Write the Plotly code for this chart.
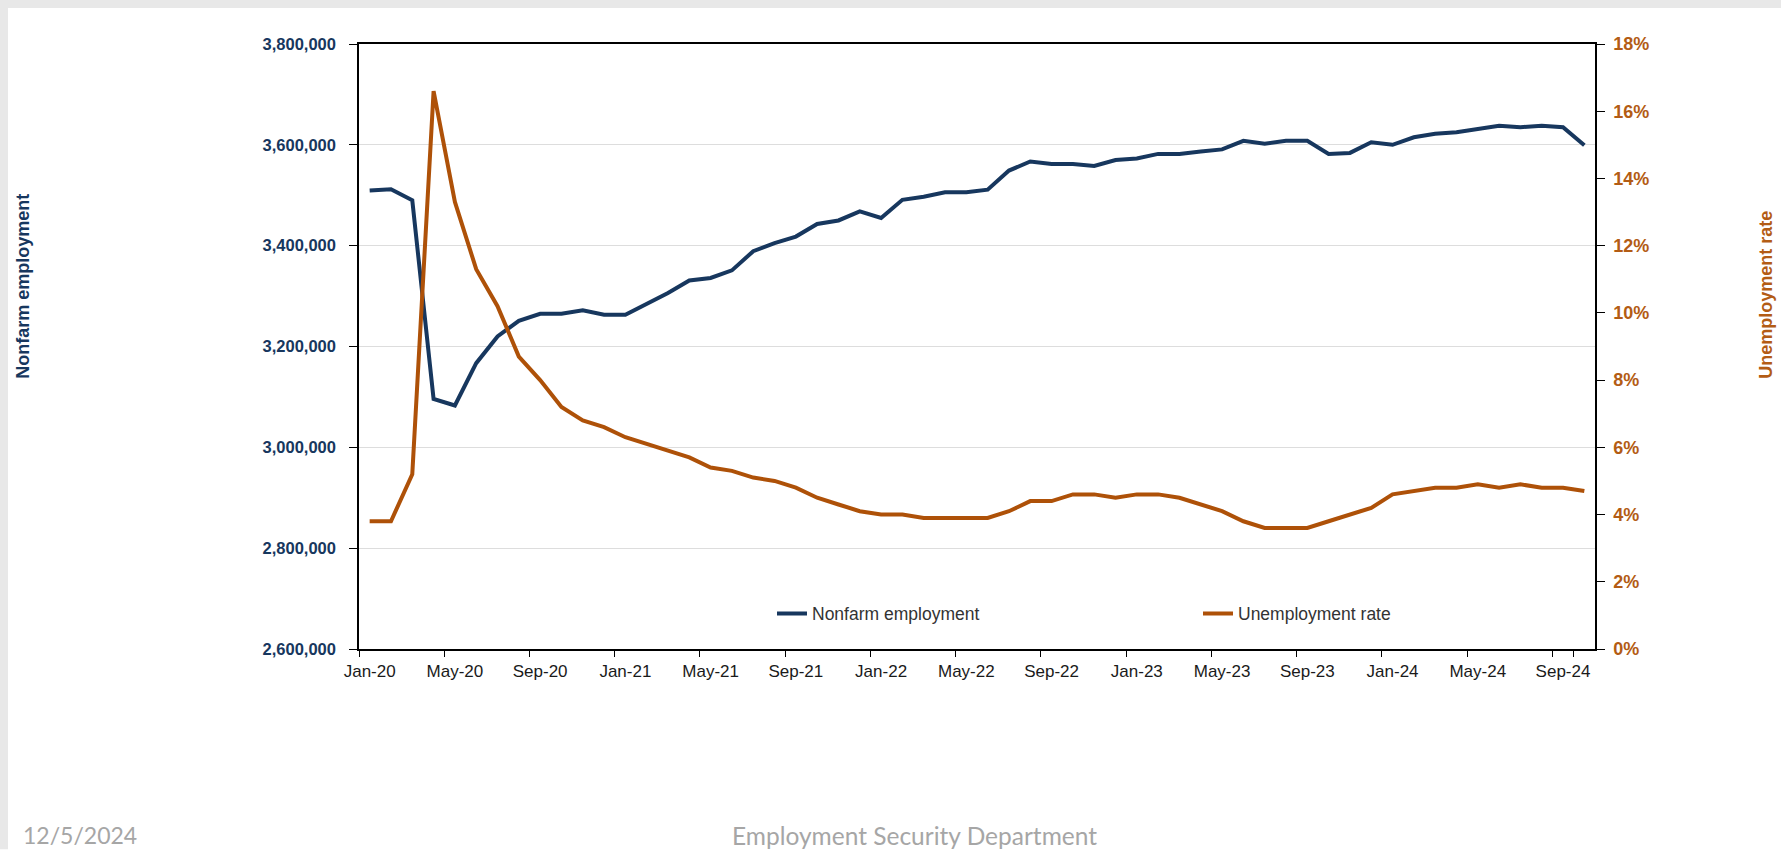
import plotly.graph_objects as go

months = [
    "Jan-20", "Feb-20", "Mar-20", "Apr-20", "May-20", "Jun-20", "Jul-20", "Aug-20", "Sep-20", "Oct-20", "Nov-20", "Dec-20",
    "Jan-21", "Feb-21", "Mar-21", "Apr-21", "May-21", "Jun-21", "Jul-21", "Aug-21", "Sep-21", "Oct-21", "Nov-21", "Dec-21",
    "Jan-22", "Feb-22", "Mar-22", "Apr-22", "May-22", "Jun-22", "Jul-22", "Aug-22", "Sep-22", "Oct-22", "Nov-22", "Dec-22",
    "Jan-23", "Feb-23", "Mar-23", "Apr-23", "May-23", "Jun-23", "Jul-23", "Aug-23", "Sep-23", "Oct-23", "Nov-23", "Dec-23",
    "Jan-24", "Feb-24", "Mar-24", "Apr-24", "May-24", "Jun-24", "Jul-24", "Aug-24", "Sep-24", "Oct-24",
]

nonfarm_employment = [
    3509500, 3512000, 3490000, 3096000, 3083000, 3167000, 3220000, 3251000, 3265000, 3265000, 3272000, 3263000,
    3263000, 3285000, 3306000, 3331000, 3336000, 3351000, 3389000, 3405000, 3418000, 3443000, 3450000, 3468000,
    3455000, 3491000, 3497000, 3506000, 3506000, 3511000, 3549000, 3567000, 3562000, 3562000, 3558000, 3570000,
    3573000, 3582000, 3582000, 3587000, 3591000, 3608000, 3602000, 3608000, 3608000, 3582000, 3584000, 3605000,
    3600000, 3615000, 3622000, 3625000, 3632000, 3638000, 3635000, 3638000, 3635000, 3599000,
]

unemployment_rate = [
    3.8, 3.8, 5.2, 16.6, 13.3, 11.3, 10.2, 8.7, 8.0, 7.2, 6.8, 6.6,
    6.3, 6.1, 5.9, 5.7, 5.4, 5.3, 5.1, 5.0, 4.8, 4.5, 4.3, 4.1,
    4.0, 4.0, 3.9, 3.9, 3.9, 3.9, 4.1, 4.4, 4.4, 4.6, 4.6, 4.5,
    4.6, 4.6, 4.5, 4.3, 4.1, 3.8, 3.6, 3.6, 3.6, 3.8, 4.0, 4.2,
    4.6, 4.7, 4.8, 4.8, 4.9, 4.8, 4.9, 4.8, 4.8, 4.7,
]

x_tick_labels = months[::4]

NAVY = "#17375E"
ORANGE = "#AE5108"
ORANGE_TXT = "#B35C14"
FONT = "Liberation Sans, Arial, sans-serif"

W, H = 1781, 850
PL, PR, PT, PB = 359, 1595, 44, 649.5


def px(xp):
    return (xp - PL) / (PR - PL)


def py(yp):
    return (PB - yp) / (PB - PT)


fig = go.Figure()
fig.add_trace(go.Scatter(
    x=months, y=nonfarm_employment, name="Nonfarm employment", mode="lines",
    line=dict(color=NAVY, width=4), yaxis="y", legend="legend",
))
fig.add_trace(go.Scatter(
    x=months, y=unemployment_rate, name="Unemployment rate", mode="lines",
    line=dict(color=ORANGE, width=4), yaxis="y2", legend="legend2",
))

fig.update_layout(
    width=W, height=H,
    margin=dict(l=PL, r=W - PR, t=PT, b=H - PB, pad=0),
    paper_bgcolor="white", plot_bgcolor="white",
    font=dict(family=FONT, size=17, color="#262626"),
    xaxis=dict(
        type="category", categoryorder="array", categoryarray=months,
        range=[-0.5, len(months) - 0.5],
        tickmode="array", tickvals=x_tick_labels, ticktext=x_tick_labels,
        tickson="boundaries", ticks="outside", ticklen=6, tickwidth=1, tickcolor="#000000",
        tickangle=0,
        showline=True, linecolor="#000000", linewidth=1.5, mirror=True,
        showgrid=False, zeroline=False,
        tickfont=dict(family=FONT, size=17, color="#1a1a1a"),
        ticklabelstandoff=6,
    ),
    yaxis=dict(
        range=[2600000, 3800000], dtick=200000, tick0=2600000, tickformat=",",
        ticks="outside", ticklen=8, tickwidth=1, tickcolor="#000000",
        showline=True, linecolor="#000000", linewidth=1.5,
        showgrid=True, gridcolor="#DDDDDD", gridwidth=1, zeroline=False,
        tickfont=dict(family=FONT, size=16.5, color=NAVY, weight="bold"),
        ticklabelstandoff=10,
    ),
    yaxis2=dict(
        overlaying="y", side="right", range=[0, 18], dtick=2, tick0=0, ticksuffix="%",
        ticks="outside", ticklen=8, tickwidth=1, tickcolor="#000000",
        showline=True, linecolor="#000000", linewidth=1.5,
        showgrid=False, zeroline=False,
        tickfont=dict(family=FONT, size=18, color=ORANGE_TXT, weight="bold"),
        ticklabelstandoff=5,
    ),
    legend=dict(
        x=px(772), y=py(614), xanchor="left", yanchor="middle", orientation="h",
        bgcolor="rgba(0,0,0,0)", borderwidth=0,
        font=dict(family=FONT, size=17.5, color="#333333"),
    ),
    legend2=dict(
        x=px(1198), y=py(614), xanchor="left", yanchor="middle", orientation="h",
        bgcolor="rgba(0,0,0,0)", borderwidth=0,
        font=dict(family=FONT, size=17.5, color="#333333"),
    ),
    showlegend=True,
)

# axis titles
fig.add_annotation(
    text="<b>Nonfarm employment</b>", textangle=-90, xref="paper", yref="paper",
    x=px(23), y=py(287), xanchor="center", yanchor="middle", showarrow=False,
    font=dict(family=FONT, size=18, color=NAVY),
)
fig.add_annotation(
    text="<b>Unemployment rate</b>", textangle=-90, xref="paper", yref="paper",
    x=px(1766), y=py(295), xanchor="center", yanchor="middle", showarrow=False,
    font=dict(family=FONT, size=18, color=ORANGE_TXT),
)

# slide footer
fig.add_annotation(
    text="12/5/2024", xref="paper", yref="paper", x=px(21), y=py(836),
    xanchor="left", yanchor="middle", showarrow=False,
    font=dict(family="Lato, sans-serif", size=23, color="#A6A6A6"),
)
fig.add_annotation(
    text="Employment Security Department", xref="paper", yref="paper", x=px(914), y=py(836),
    xanchor="center", yanchor="middle", showarrow=False,
    font=dict(family="Lato, sans-serif", size=24.5, color="#A6A6A6"),
)

# slide border strips (top and left)
fig.add_shape(type="rect", xref="paper", yref="paper", x0=px(0), x1=px(W), y0=py(0), y1=py(8),
              fillcolor="#E8E8E8", line=dict(width=0), layer="below")
fig.add_shape(type="rect", xref="paper", yref="paper", x0=px(0), x1=px(8), y0=py(0), y1=py(H),
              fillcolor="#E8E8E8", line=dict(width=0), layer="below")

fig.write_html(
    "out.html",
    config={"displayModeBar": False},
    post_script="document.body.style.margin='0px';document.body.style.overflow='hidden';",
)
